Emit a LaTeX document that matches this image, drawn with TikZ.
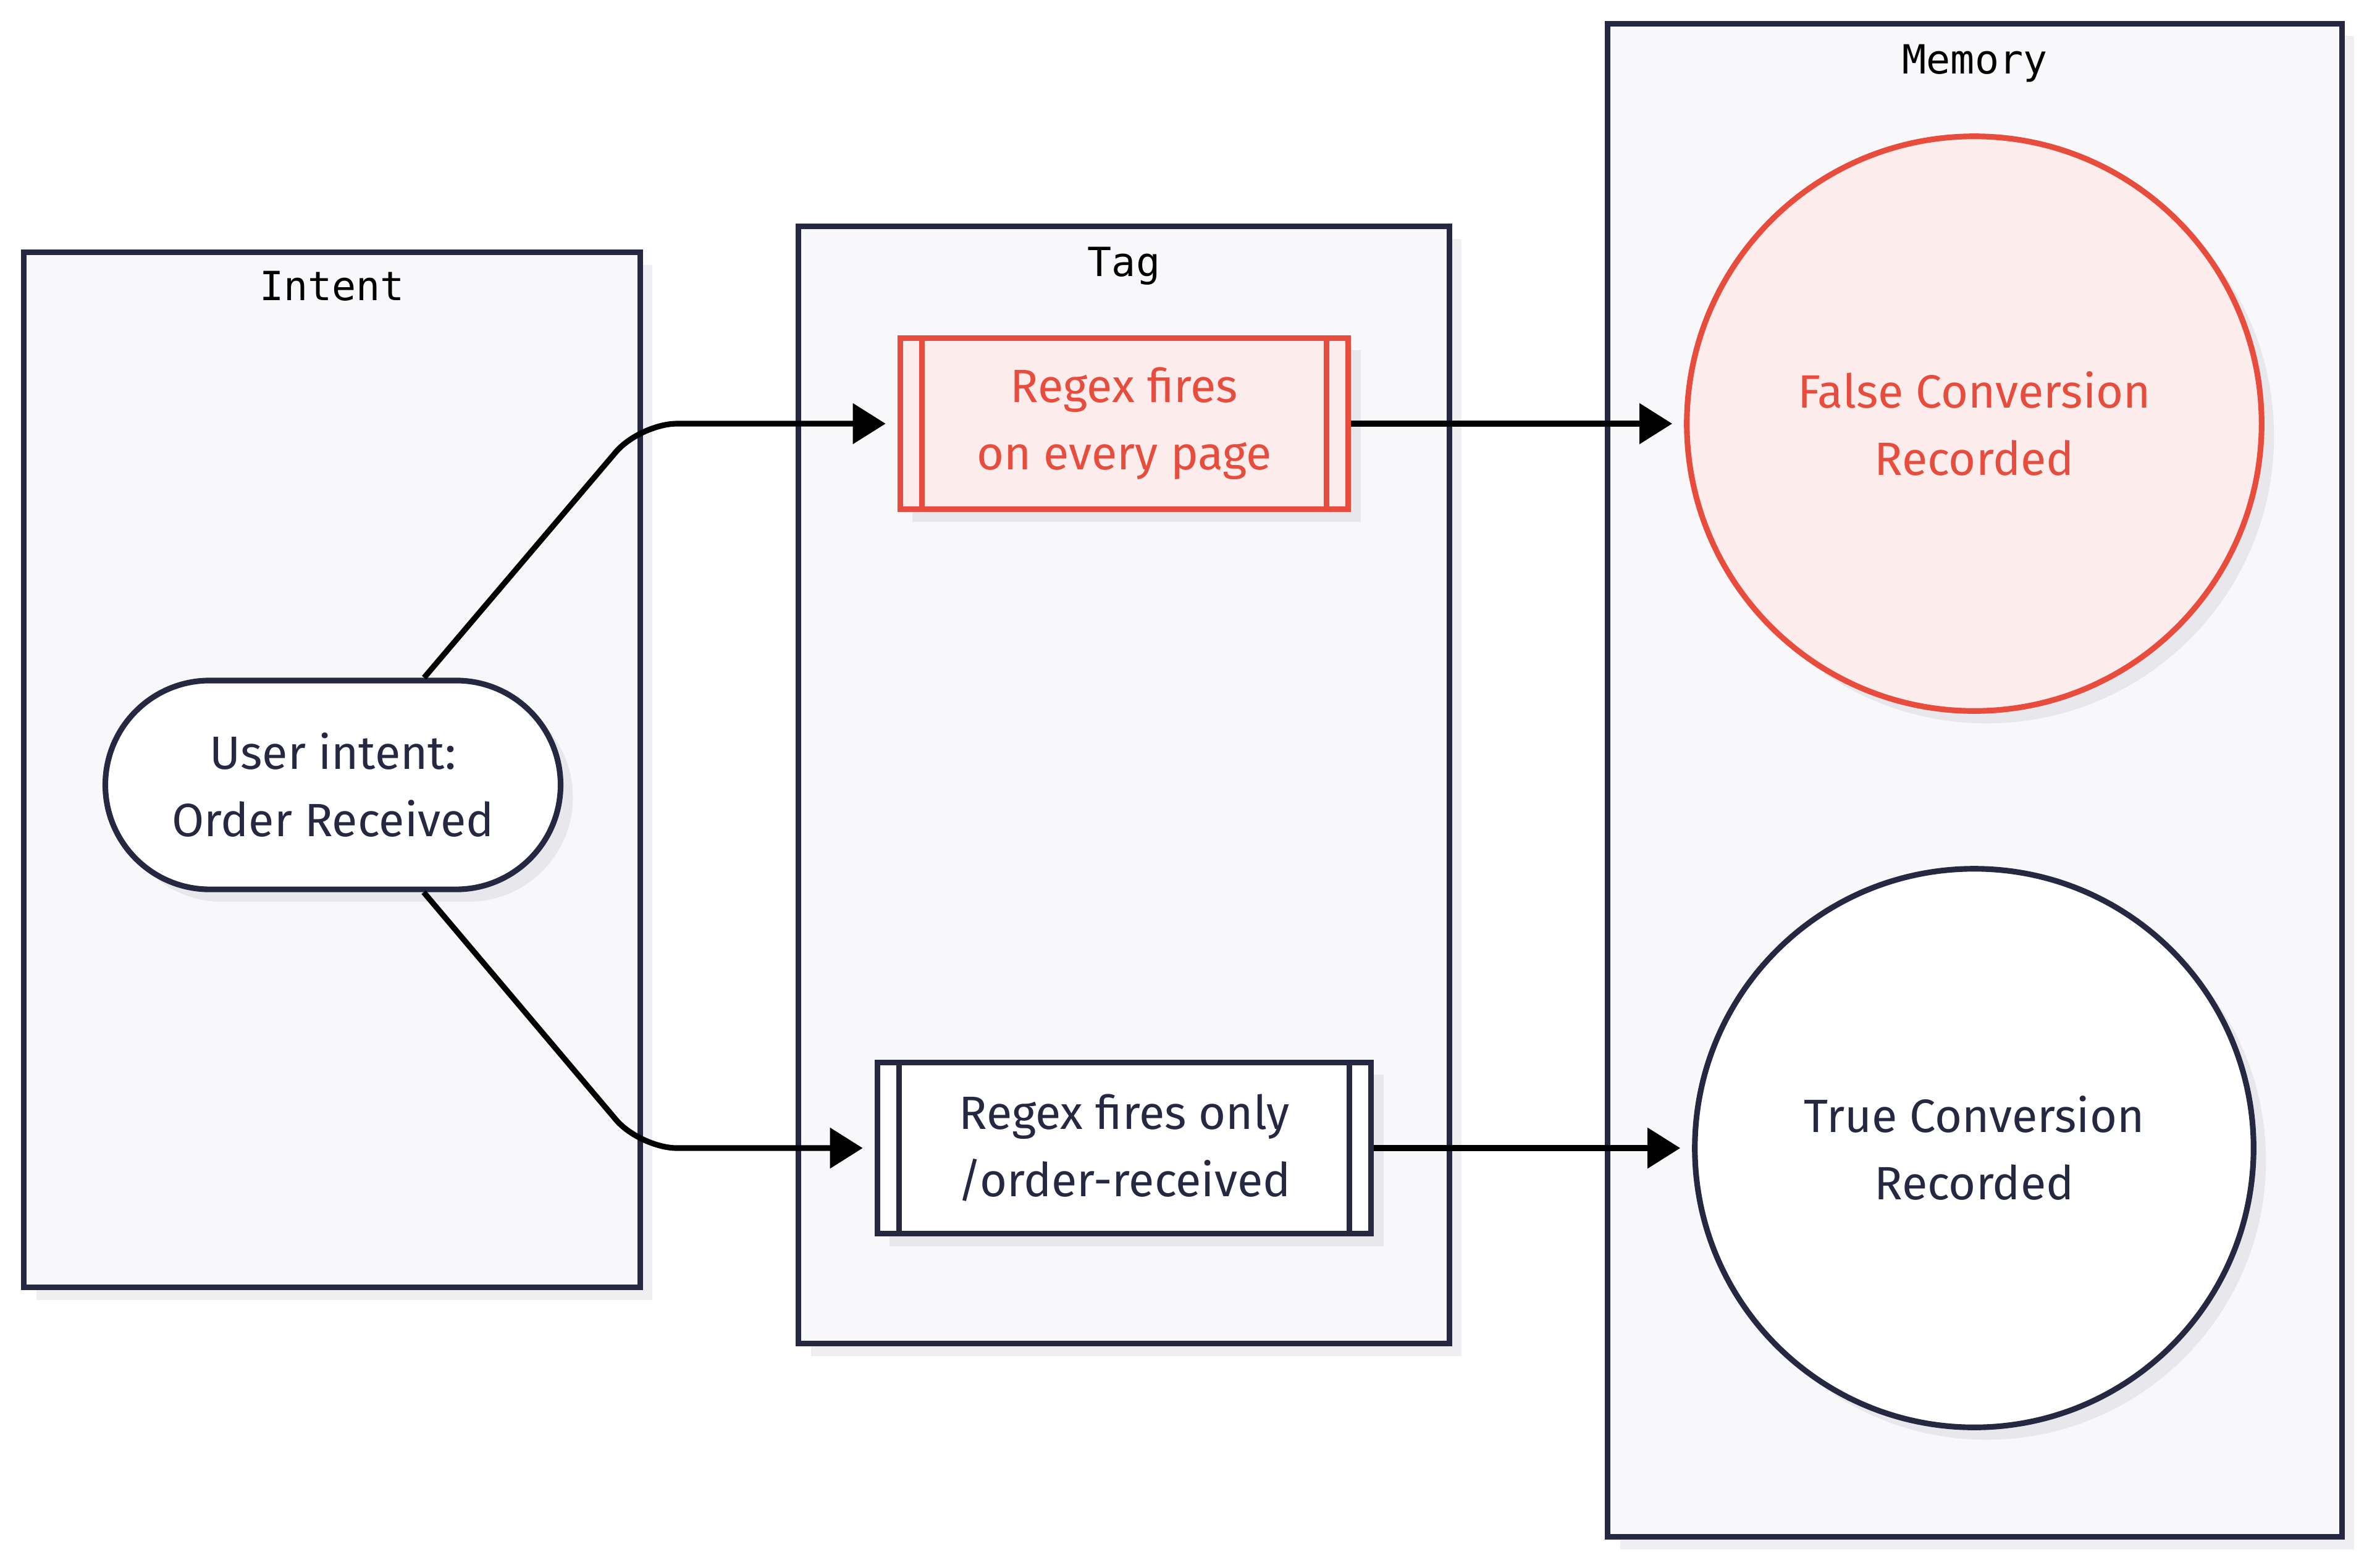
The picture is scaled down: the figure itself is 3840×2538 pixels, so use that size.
\documentclass[tikz,border=0pt]{standalone}
\usepackage{fontspec}
\setmainfont{Fira Sans}
\newfontfamily\titlefont{DejaVu Sans Mono}
\usepackage{xcolor}
\usepackage{tikz}
\usetikzlibrary{positioning,shapes.misc,shadows,arrows.meta}

\definecolor{ink}{HTML}{262740}
\definecolor{alert}{HTML}{E74C3C}
\definecolor{alertfill}{HTML}{FDECEC}
\definecolor{panelfill}{HTML}{F8F8FA}
\definecolor{shade}{HTML}{E8E8EC}
\definecolor{panelshade}{HTML}{EFEFF1}

\begin{document}
\begin{tikzpicture}[x=0.01cm,y=-0.01cm,
    panel/.style={draw=ink, line width=2.6pt, fill=panelfill,
      drop shadow={shadow xshift=0.2cm, shadow yshift=-0.2cm, fill=panelshade, opacity=1}},
    title/.style={anchor=base, font=\titlefont\fontsize{18.5}{22}\selectfont, text=black},
    soft/.style={draw=ink, line width=2.6pt, fill=white, text=ink, align=center,
      font=\fontsize{21.5}{31}\selectfont,
      drop shadow={shadow xshift=0.2cm, shadow yshift=-0.2cm, fill=shade, opacity=1}},
    proc/.style={soft, rectangle, minimum height=2.77cm},
    flow/.style={draw=black, line width=2.6pt, rounded corners=0.6cm,
      -{Triangle[length=0.53cm, width=0.64cm]}, shorten >=0.19cm}]
    % Canvas
    \path[use as bounding box, fill=white] (0,0) rectangle (3840,2538);
    % Panels
    \node[panel, minimum width=9.97cm, minimum height=16.75cm] (intentpanel) at (537.5,1246.5) {};
    \node[panel, minimum width=10.53cm, minimum height=18.08cm] (tagpanel) at (1819.5,1271) {};
    \node[panel, minimum width=11.88cm, minimum height=24.49cm] (memorypanel) at (3197,1263.5) {};
    \node[title] (intenttitle) at (537.5,486) {Intent};
    \node[title] (tagtitle) at (1819.5,447) {Tag};
    \node[title] (memorytitle) at (3197,119) {Memory};
    % Intent
    \node[soft, rounded rectangle, minimum width=7.6cm, minimum height=3.38cm] (user) at (539,1271) {User intent:\\Order Received};
    % Tags
    \node[proc, draw=alert, fill=alertfill, text=alert, minimum width=7.25cm] (fires) at (1820,686) {Regex fires\\on every page};
    \draw[alert, line width=2.6pt] ([xshift=0.4cm]fires.north west) -- ([xshift=0.4cm]fires.south west);
    \draw[alert, line width=2.6pt] ([xshift=-0.4cm]fires.north east) -- ([xshift=-0.4cm]fires.south east);
    \node[proc, minimum width=7.99cm] (only) at (1820,1859) {Regex fires only\\/order-received};
    \draw[ink, line width=2.6pt] ([xshift=0.4cm]only.north west) -- ([xshift=0.4cm]only.south west);
    \draw[ink, line width=2.6pt] ([xshift=-0.4cm]only.north east) -- ([xshift=-0.4cm]only.south east);
    % Memory
    \node[soft, circle, draw=alert, fill=alertfill, text=alert, minimum size=9.3cm] (falseconv) at (3196,686) {False Conversion\\Recorded};
    \node[soft, circle, minimum size=9.04cm] (trueconv) at (3196,1859) {True Conversion\\Recorded};
    % Flows
    \coordinate (bendtop) at (1036,686);
    \coordinate (bendbottom) at (1036,1859);
    \draw[flow] (user) -- (bendtop) -- (fires);
    \draw[flow] (user) -- (bendbottom) -- (only);
    \draw[flow] (fires) -- (falseconv);
    \draw[flow] (only) -- (trueconv);
  \end{tikzpicture}
\end{document}
